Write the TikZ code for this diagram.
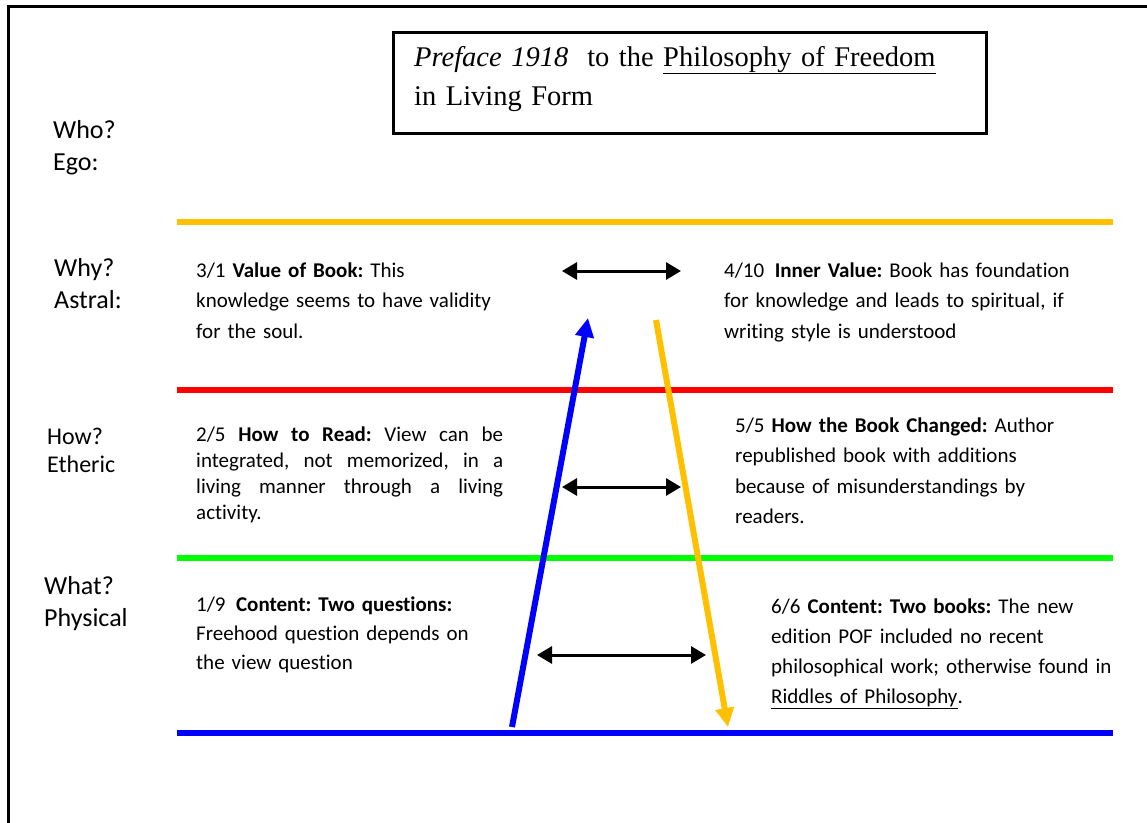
\documentclass[tikz,border=0pt]{standalone}
\usepackage{fontspec}
\setmainfont{Carlito}[Ligatures={NoCommon}]
\newfontfamily\timesfont{Liberation Serif}
\usetikzlibrary{arrows.meta}
\frenchspacing
\definecolor{lvlyellow}{HTML}{FFC000}
\definecolor{lvlred}{HTML}{FF0000}
\definecolor{lvlgreen}{HTML}{00FF00}
\definecolor{lvlblue}{HTML}{0000FF}
\begin{document}
\begin{tikzpicture}[x=1pt,y=-1pt,
  body/.style={anchor=base west, inner sep=0pt, text width=420pt, align=left, font=\fontsize{21}{30.5}\selectfont},
  side/.style={anchor=base west, inner sep=0pt, text width=110pt, align=left, font=\fontsize{26}{32}\selectfont},
  level/.style={line width=6pt},
  riser/.style={line width=6pt, -{Triangle[length=19pt,width=18pt]}},
  link/.style={line width=3pt, {Triangle[length=15pt,width=17pt]}-{Triangle[length=15pt,width=17pt]}},
]
\useasboundingbox[fill=white] (0,0) rectangle (1147,822);

% outer frame
\draw[line width=3pt] (8.5,830) -- (8.5,6.5) -- (1155,6.5);

% title
\node[draw, line width=2.5pt, minimum width=593pt, minimum height=101pt, inner sep=0pt, anchor=north west] (titlebox) at (392,31) {};
\node[anchor=base west, inner sep=0pt, text width=560pt, align=left, font=\timesfont\fontsize{28.5}{39}\selectfont] (title) at (414,66)
  {\textit{Preface 1918}\ \ to the \underline{Philosophy of Freedom}\\in Living Form};

% side labels
\node[side] (who) at (53,138) {Who?\\Ego:};
\node[side] (why) at (54,276) {Why?\\Astral:};
\node[side, font=\fontsize{24}{28}\selectfont] (how) at (47,444) {How?\\Etheric};
\node[side] (what) at (44,594) {What?\\Physical};

% level lines
\coordinate (yl0) at (177,222); \coordinate (yl1) at (1113,222);
\coordinate (rl0) at (177,390); \coordinate (rl1) at (1113,390);
\coordinate (gl0) at (177,558); \coordinate (gl1) at (1113,558);
\coordinate (bl0) at (177,733); \coordinate (bl1) at (1113,733);
\draw[level, lvlyellow] (yl0) -- (yl1);
\draw[level, lvlred] (rl0) -- (rl1);
\draw[level, lvlgreen] (gl0) -- (gl1);
\draw[level, lvlblue] (bl0) -- (bl1);

% texts
\node[body] (v31) at (196,277) {3/1 \textbf{Value of Book:} This\\knowledge seems to have validity\\for the soul.};
\node[body] (v410) at (724,277) {4/10\enspace\textbf{Inner Value:} Book has foundation\\for knowledge and leads to spiritual, if\\writing style is understood};
\node[body, text width=307pt, align=justify, font=\fontsize{21}{26}\selectfont] (v25) at (196,441)
  {2/5 \textbf{How to Read:} View can be\linebreak integrated, not memorized, in a\linebreak living manner through a living\linebreak activity.};
\node[body] (v55) at (735,432) {5/5 \textbf{How the Book Changed:} Author\\republished book with additions\\because of misunderstandings by\\readers.};
\node[body, font=\fontsize{21}{29}\selectfont] (v19) at (196,611) {1/9\enspace\textbf{Content: Two questions:}\\Freehood question depends on\\the view question};
\node[body, font=\fontsize{21}{30}\selectfont] (v66) at (771,613) {6/6 \textbf{Content: Two books:} The new\\edition POF included no recent\\philosophical work; otherwise found in\\\underline{Riddles of Philosophy}.};

% rising / falling arrows
\coordinate (bS) at (512,727); \coordinate (bE) at (588,318);
\coordinate (yS) at (656,320); \coordinate (yE) at (728,727);
\draw[riser, lvlblue] (bS) -- (bE);
\draw[riser, lvlyellow] (yS) -- (yE);

% double arrows
\coordinate (aL1) at (562,271); \coordinate (aR1) at (681,271);
\coordinate (aL2) at (562,487); \coordinate (aR2) at (681,487);
\coordinate (aL3) at (537,655); \coordinate (aR3) at (706,655);
\draw[link] (aL1) -- (aR1);
\draw[link] (aL2) -- (aR2);
\draw[link] (aL3) -- (aR3);
\end{tikzpicture}
\end{document}
